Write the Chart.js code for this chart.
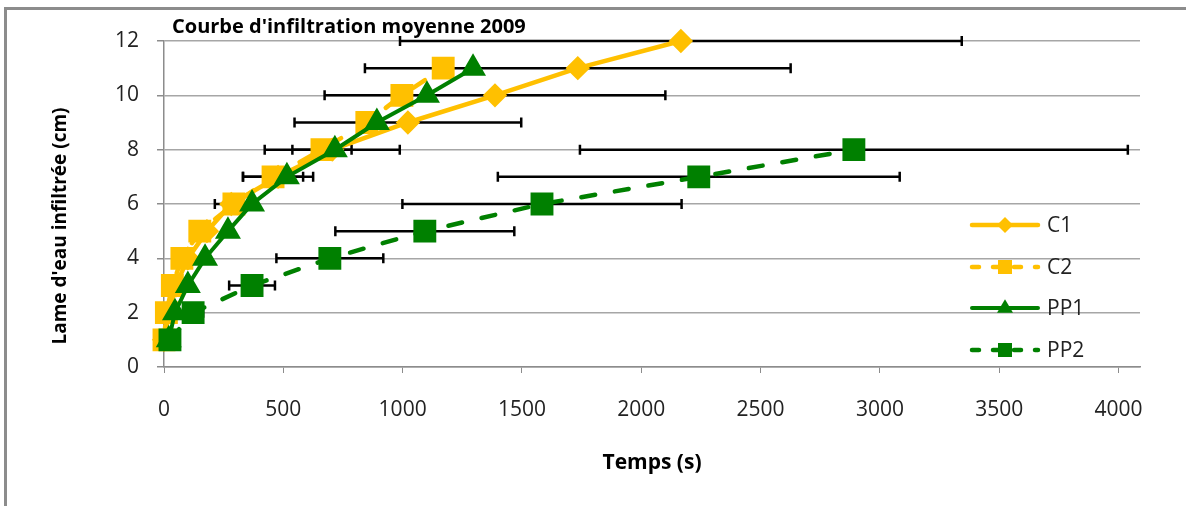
<!DOCTYPE html>
<html>
<head>
<meta charset="utf-8">
<script src="https://cdn.jsdelivr.net/npm/chart.js@4.4.1/dist/chart.umd.min.js"></script>
<style>
  html, body { margin: 0; padding: 0; background: #fff; }
  #wrap { width: 1186px; height: 506px; }
</style>
</head>
<body>
<div id="wrap"><canvas id="infil"></canvas></div>
<script>
// values
const depthC1 = [1, 2, 3, 4, 5, 6, 7, 8, 9, 10, 11, 12];
const timeC1 = [0, 20, 50, 100, 180, 282, 478, 705, 1022, 1387, 1734, 2166];
const errC1 = [0, 0, 0, 0, 0, 69, 147, 283, 475, 714, 892, 1177];

const depthC2 = [1, 2, 3, 4, 5, 6, 7, 8, 9, 10, 11];
const timeC2 = [0, 10, 35, 75, 150, 293, 457, 662, 850, 997, 1170];
const errC2 = [0, 0, 0, 0, 0, 0, 126, 124, 0, 0, 0];

const depthPP1 = [1, 2, 3, 4, 5, 6, 7, 8, 9, 10, 11];
const timePP1 = [20, 46, 100, 172, 268, 369, 515, 716, 892, 1102, 1295];

const depthPP2 = [1, 2, 3, 4, 5, 6, 7, 8];
const timePP2 = [25, 122, 369, 695, 1093, 1584, 2241, 2891];
const errPP2 = [0, 42, 96, 224, 375, 585, 842, 1148];

const xTicks = [0, 500, 1000, 1500, 2000, 2500, 3000, 3500, 4000];
const yTicks = [0, 2, 4, 6, 8, 10, 12];

const ORANGE = '#FFC000';
const GREEN = '#008000';

function pts(xs, ys) {
  return xs.map((x, i) => ({ x: x, y: ys[i] }));
}

// horizontal error bars, drawn under the series
const errorBars = {
  id: 'errorBars',
  beforeDatasetsDraw(chart) {
    const ctx = chart.ctx;
    const xs = chart.scales.x, ys = chart.scales.y;
    ctx.save();
    ctx.strokeStyle = '#000';
    ctx.lineWidth = 2.5;
    chart.data.datasets.forEach(ds => {
      if (!ds.xErr) return;
      ds.data.forEach((p, i) => {
        const e = ds.xErr[i];
        if (!e) return;
        const y = ys.getPixelForValue(p.y);
        const l = xs.getPixelForValue(p.x - e);
        const r = xs.getPixelForValue(p.x + e);
        ctx.beginPath();
        ctx.moveTo(l, y); ctx.lineTo(r, y);
        ctx.moveTo(l, y - 5); ctx.lineTo(l, y + 5);
        ctx.moveTo(r, y - 5); ctx.lineTo(r, y + 5);
        ctx.stroke();
      });
    });
    ctx.restore();
  }
};

function marker(ctx, style, x, y, s) {
  ctx.beginPath();
  if (style === 'rectRot') {
    ctx.moveTo(x, y - s); ctx.lineTo(x + s, y); ctx.lineTo(x, y + s); ctx.lineTo(x - s, y);
  } else if (style === 'rect') {
    ctx.rect(x - s, y - s, 2 * s, 2 * s);
  } else {
    ctx.moveTo(x, y - s * 1.1); ctx.lineTo(x + s, y + s * 0.6); ctx.lineTo(x - s, y + s * 0.6);
  }
  ctx.closePath();
  ctx.fill();
}

// frame, title, y-axis title, legend
const decor = {
  id: 'decor',
  beforeDraw(chart) {
    const ctx = chart.ctx;
    ctx.save();
    ctx.fillStyle = '#fff';
    ctx.fillRect(0, 0, chart.width, chart.height);
    ctx.strokeStyle = '#8c8c8c';
    ctx.lineWidth = 3;
    ctx.beginPath();
    ctx.moveTo(5.5, 520); ctx.lineTo(5.5, 8.5); ctx.lineTo(1190, 8.5);
    ctx.stroke();
    ctx.restore();
  },
  afterDraw(chart) {
    const ctx = chart.ctx;
    ctx.save();
    ctx.fillStyle = '#000';
    ctx.font = 'bold 20px "Open Sans"';
    ctx.textBaseline = 'middle';
    ctx.fillText("Courbe d'infiltration moyenne 2009", 172, 27);

    ctx.save();
    ctx.translate(61, 226);
    ctx.rotate(-Math.PI / 2);
    ctx.textAlign = 'center';
    ctx.font = 'bold 19px "Open Sans"';
    ctx.fillText("Lame d'eau infiltrée (cm)", 0, 0);
    ctx.restore();

    const rows = [225, 267, 308, 350];
    chart.data.datasets.forEach((ds, i) => {
      const y = rows[i];
      ctx.strokeStyle = ds.borderColor;
      ctx.fillStyle = ds.borderColor;
      ctx.lineWidth = ds.borderWidth;
      ctx.lineCap = 'round';
      ctx.setLineDash(ds.borderDash ? [7, 14] : []);
      ctx.beginPath();
      ctx.moveTo(972, y); ctx.lineTo(1038, y);
      ctx.stroke();
      ctx.setLineDash([]);
      marker(ctx, ds.pointStyle, 1005, y, ds.pointStyle === 'rect' ? 7 : 8);
      ctx.fillStyle = '#222';
      ctx.font = '21px "Open Sans"';
      ctx.fillText(ds.label, 1047, y + 1);
    });
    ctx.restore();
  }
};

const tickFont = { family: 'Open Sans', size: 21 };

new Chart(document.getElementById('infil'), {
  type: 'scatter',
  data: {
    datasets: [
      {
        label: 'C1', data: pts(timeC1, depthC1), xErr: errC1, clip: false,
        showLine: true, borderColor: ORANGE, backgroundColor: ORANGE, borderWidth: 4.5,
        pointStyle: 'rectRot', pointRadius: 9, pointHoverRadius: 9, order: 4
      },
      {
        label: 'C2', data: pts(timeC2, depthC2), xErr: errC2, clip: false,
        showLine: true, borderColor: ORANGE, backgroundColor: ORANGE, borderWidth: 4.5,
        borderDash: [14, 20], borderCapStyle: 'round',
        pointStyle: 'rect', pointRadius: 13, pointHoverRadius: 13, order: 3
      },
      {
        label: 'PP1', data: pts(timePP1, depthPP1), clip: false,
        showLine: true, borderColor: GREEN, backgroundColor: GREEN, borderWidth: 4,
        pointStyle: 'triangle', pointRadius: 11, pointHoverRadius: 11, order: 2
      },
      {
        label: 'PP2', data: pts(timePP2, depthPP2), xErr: errPP2, clip: false,
        showLine: true, borderColor: GREEN, backgroundColor: GREEN, borderWidth: 4.5,
        borderDash: [14, 20], borderCapStyle: 'round',
        pointStyle: 'rect', pointRadius: 13, pointHoverRadius: 13, order: 1
      }
    ]
  },
  plugins: [errorBars, decor],
  options: {
    responsive: true,
    maintainAspectRatio: false,
    animation: false,
    layout: { padding: { left: 49, top: 41, right: 46, bottom: 30 } },
    plugins: {
      legend: { display: false },
      tooltip: { enabled: false }
    },
    scales: {
      x: {
        type: 'linear', min: 0, max: 4090,
        afterBuildTicks: s => { s.ticks = xTicks.map(v => ({ value: v })); },
        afterFit: s => { s.height = 109; },
        ticks: { font: tickFont, color: '#222', padding: 24, maxRotation: 0, callback: v => String(v) },
        grid: { drawOnChartArea: false, drawTicks: true, tickLength: 6, color: '#8c8c8c' },
        border: { display: true, color: '#8c8c8c', width: 1.5 },
        title: {
          display: true, text: 'Temps (s)', color: '#000',
          font: { family: 'Open Sans', size: 21, weight: 'bold' }, padding: 0
        }
      },
      y: {
        min: 0, max: 12,
        afterBuildTicks: s => { s.ticks = yTicks.map(v => ({ value: v })); },
        afterFit: s => { s.width = 115; },
        ticks: { font: tickFont, color: '#222', padding: 18, callback: v => String(v) },
        grid: { color: '#a6a6a6', lineWidth: 1.5, tickLength: 7, tickColor: '#8c8c8c' },
        border: { display: true, color: '#8c8c8c', width: 1.5 },
        title: { display: false }
      }
    }
  }
});
</script>
</body>
</html>
